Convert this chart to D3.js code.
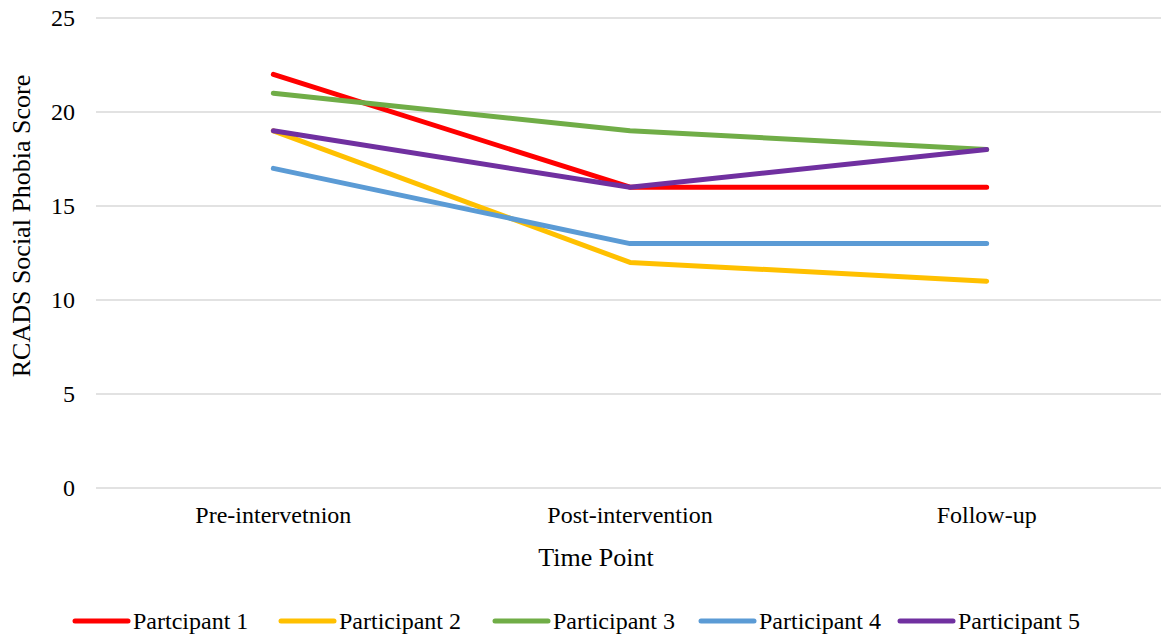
<!DOCTYPE html>
<html>
<head>
<meta charset="utf-8">
<script src="https://cdn.jsdelivr.net/npm/d3@7"></script>
<style>
  html, body { margin: 0; padding: 0; background: #fff; }
  svg { display: block; }
</style>
</head>
<body>
<svg id="chart" width="1161" height="641"></svg>
<script>
// Time points and scores for each participant
const timePoints = ["Pre-intervetnion", "Post-intervention", "Follow-up"];
const participants = ["Partcipant 1", "Participant 2", "Participant 3", "Participant 4", "Participant 5"];
const p1 = [22, 16, 16];
const p2 = [19, 12, 11];
const p3 = [21, 19, 18];
const p4 = [17, 13, 13];
const p5 = [19, 16, 18];
const yTicks = [0, 5, 10, 15, 20, 25];
const colors = ["#ff0000", "#ffc000", "#70ad47", "#5b9bd5", "#7030a0"];

const FONT = "'Liberation Serif'";

const series = [p1, p2, p3, p4, p5].map((values, i) => ({
  name: participants[i],
  color: colors[i],
  values: values
}));

const svg = d3.select("#chart");
const W = 1161;
const left = 95;

const x = d3.scaleBand().domain(timePoints).range([left, 1165]);
const y = d3.scaleLinear().domain([0, 25]).range([488, 18]);

// Horizontal gridlines
svg.append("g")
  .selectAll("line")
  .data(yTicks)
  .join("line")
  .attr("x1", left + 1)
  .attr("x2", W)
  .attr("y1", d => y(d))
  .attr("y2", d => y(d))
  .attr("stroke", "#d9d9d9")
  .attr("stroke-width", 1.5);

// Y axis labels
const yAxis = d3.axisLeft(y).tickValues(yTicks).tickSize(0).tickPadding(0);
svg.append("g")
  .attr("transform", "translate(75,0)")
  .call(yAxis)
  .attr("font-family", null)
  .attr("font-size", null)
  .call(g => g.select(".domain").remove())
  .call(g => g.selectAll("text")
    .style("font-family", FONT)
    .style("font-size", "24px")
    .attr("fill", "#000")
    .attr("dy", "0.32em"));

// X axis labels
const xAxis = d3.axisBottom(x).tickSize(0).tickPadding(0);
svg.append("g")
  .attr("transform", "translate(0,506)")
  .call(xAxis)
  .attr("font-family", null)
  .attr("font-size", null)
  .call(g => g.select(".domain").remove())
  .call(g => g.selectAll("text")
    .style("font-family", FONT)
    .style("font-size", "24px")
    .attr("fill", "#000")
    .attr("dy", "0.71em"));

// Axis titles
svg.append("text")
  .attr("x", 596)
  .attr("y", 566)
  .attr("text-anchor", "middle")
  .style("font-family", FONT)
  .style("font-size", "26px")
  .attr("fill", "#000")
  .text("Time Point");

svg.append("text")
  .attr("transform", "translate(30,226) rotate(-90)")
  .attr("text-anchor", "middle")
  .style("font-family", FONT)
  .style("font-size", "26px")
  .attr("fill", "#000")
  .text("RCADS Social Phobia Score");

// Participant lines
const line = d3.line()
  .x((d, i) => x(timePoints[i]) + x.bandwidth() / 2)
  .y(d => y(d));

svg.append("g")
  .selectAll("path")
  .data(series)
  .join("path")
  .attr("d", d => line(d.values))
  .attr("fill", "none")
  .attr("stroke", d => d.color)
  .attr("stroke-width", 5)
  .attr("stroke-linecap", "round")
  .attr("stroke-linejoin", "round");

// Legend
const legendX = [75, 281, 495, 701, 900];
const legend = svg.append("g")
  .selectAll("g")
  .data(series)
  .join("g")
  .attr("transform", (d, i) => `translate(${legendX[i]},621)`);

legend.append("line")
  .attr("x1", 0).attr("x2", 53)
  .attr("y1", 0).attr("y2", 0)
  .attr("stroke", d => d.color)
  .attr("stroke-width", 5)
  .attr("stroke-linecap", "round");

legend.append("text")
  .attr("x", 58)
  .attr("y", 0)
  .attr("dy", "0.33em")
  .style("font-family", FONT)
  .style("font-size", "24px")
  .attr("fill", "#000")
  .text(d => d.name);
</script>
</body>
</html>
